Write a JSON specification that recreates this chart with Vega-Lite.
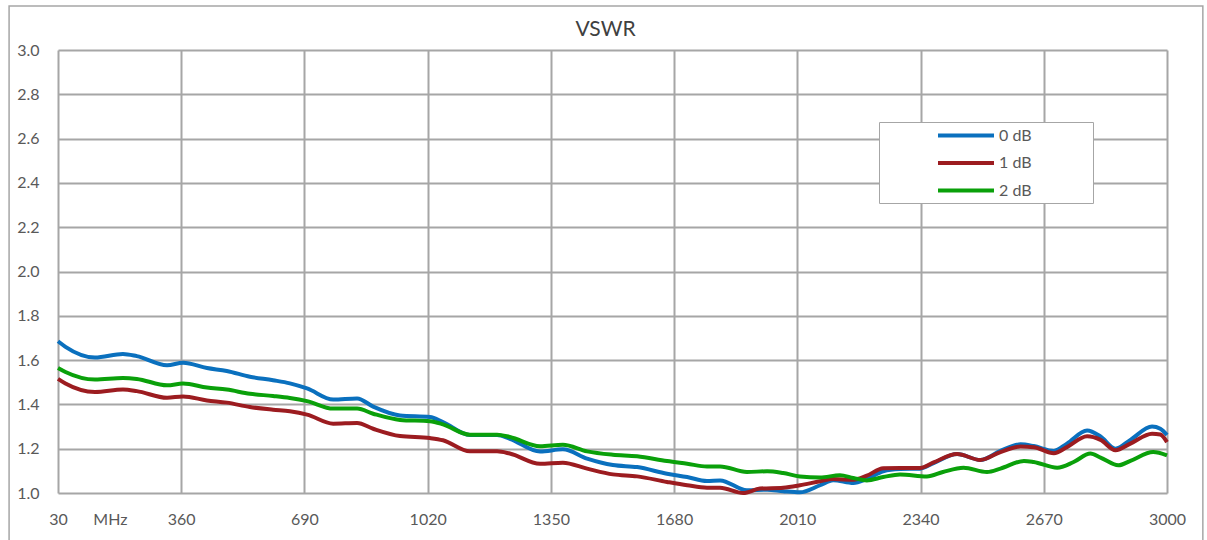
{
  "$schema": "https://vega.github.io/schema/vega-lite/v6.json",
  "width": 1109,
  "height": 443,
  "autosize": {"type": "none"},
  "padding": {"left": 58, "top": 50, "right": 40, "bottom": 47},
  "background": "white",
  "config": {
    "font": "Lato",
    "view": {"stroke": null},
    "axis": {"labelFont": "Lato", "labelFontSize": 16, "labelColor": "#595959", "grid": true, "gridColor": "#A6A6A6", "gridWidth": 2, "gridOpacity": 1, "domain": false, "ticks": false, "title": null}
  },
  "title": {"text": "VSWR", "fontSize": 21, "font": "Lato", "fontWeight": "normal", "color": "#404040", "anchor": "middle", "frame": "group", "offset": 12, "dx": -7, "dy": 47},
  "datasets": {
    "vswr": [
      {"f": 30, "v": 1.685, "s": "0 dB"}, {"f": 50, "v": 1.66, "s": "0 dB"}, {"f": 129, "v": 1.612, "s": "0 dB"}, {"f": 204, "v": 1.628, "s": "0 dB"}, {"f": 241, "v": 1.618, "s": "0 dB"}, {"f": 322, "v": 1.577, "s": "0 dB"}, {"f": 365, "v": 1.588, "s": "0 dB"}, {"f": 429, "v": 1.564, "s": "0 dB"}, {"f": 482, "v": 1.551, "s": "0 dB"}, {"f": 544, "v": 1.525, "s": "0 dB"}, {"f": 606, "v": 1.509, "s": "0 dB"}, {"f": 651, "v": 1.495, "s": "0 dB"}, {"f": 697, "v": 1.472, "s": "0 dB"}, {"f": 767, "v": 1.422, "s": "0 dB"}, {"f": 831, "v": 1.427, "s": "0 dB"}, {"f": 874, "v": 1.39, "s": "0 dB"}, {"f": 946, "v": 1.35, "s": "0 dB"}, {"f": 1026, "v": 1.343, "s": "0 dB"}, {"f": 1061, "v": 1.32, "s": "0 dB"}, {"f": 1133, "v": 1.262, "s": "0 dB"}, {"f": 1206, "v": 1.262, "s": "0 dB"}, {"f": 1240, "v": 1.245, "s": "0 dB"}, {"f": 1321, "v": 1.187, "s": "0 dB"}, {"f": 1382, "v": 1.197, "s": "0 dB"}, {"f": 1447, "v": 1.155, "s": "0 dB"}, {"f": 1516, "v": 1.126, "s": "0 dB"}, {"f": 1581, "v": 1.117, "s": "0 dB"}, {"f": 1661, "v": 1.087, "s": "0 dB"}, {"f": 1715, "v": 1.072, "s": "0 dB"}, {"f": 1768, "v": 1.054, "s": "0 dB"}, {"f": 1803, "v": 1.057, "s": "0 dB"}, {"f": 1875, "v": 1.012, "s": "0 dB"}, {"f": 1929, "v": 1.015, "s": "0 dB"}, {"f": 1972, "v": 1.008, "s": "0 dB"}, {"f": 2017, "v": 1.003, "s": "0 dB"}, {"f": 2071, "v": 1.035, "s": "0 dB"}, {"f": 2106, "v": 1.058, "s": "0 dB"}, {"f": 2160, "v": 1.045, "s": "0 dB"}, {"f": 2196, "v": 1.063, "s": "0 dB"}, {"f": 2240, "v": 1.098, "s": "0 dB"}, {"f": 2285, "v": 1.108, "s": "0 dB"}, {"f": 2339, "v": 1.11, "s": "0 dB"}, {"f": 2375, "v": 1.135, "s": "0 dB"}, {"f": 2438, "v": 1.176, "s": "0 dB"}, {"f": 2500, "v": 1.149, "s": "0 dB"}, {"f": 2554, "v": 1.19, "s": "0 dB"}, {"f": 2608, "v": 1.22, "s": "0 dB"}, {"f": 2643, "v": 1.212, "s": "0 dB"}, {"f": 2697, "v": 1.19, "s": "0 dB"}, {"f": 2732, "v": 1.223, "s": "0 dB"}, {"f": 2786, "v": 1.282, "s": "0 dB"}, {"f": 2822, "v": 1.255, "s": "0 dB"}, {"f": 2862, "v": 1.2, "s": "0 dB"}, {"f": 2902, "v": 1.24, "s": "0 dB"}, {"f": 2960, "v": 1.3, "s": "0 dB"}, {"f": 2982, "v": 1.29, "s": "0 dB"}, {"f": 3000, "v": 1.262, "s": "0 dB"},
      {"f": 30, "v": 1.515, "s": "1 dB"}, {"f": 50, "v": 1.494, "s": "1 dB"}, {"f": 129, "v": 1.456, "s": "1 dB"}, {"f": 204, "v": 1.467, "s": "1 dB"}, {"f": 241, "v": 1.46, "s": "1 dB"}, {"f": 322, "v": 1.43, "s": "1 dB"}, {"f": 365, "v": 1.436, "s": "1 dB"}, {"f": 429, "v": 1.418, "s": "1 dB"}, {"f": 482, "v": 1.408, "s": "1 dB"}, {"f": 544, "v": 1.388, "s": "1 dB"}, {"f": 606, "v": 1.376, "s": "1 dB"}, {"f": 651, "v": 1.369, "s": "1 dB"}, {"f": 697, "v": 1.354, "s": "1 dB"}, {"f": 767, "v": 1.313, "s": "1 dB"}, {"f": 831, "v": 1.316, "s": "1 dB"}, {"f": 874, "v": 1.29, "s": "1 dB"}, {"f": 946, "v": 1.257, "s": "1 dB"}, {"f": 1026, "v": 1.248, "s": "1 dB"}, {"f": 1061, "v": 1.238, "s": "1 dB"}, {"f": 1133, "v": 1.188, "s": "1 dB"}, {"f": 1206, "v": 1.188, "s": "1 dB"}, {"f": 1240, "v": 1.178, "s": "1 dB"}, {"f": 1321, "v": 1.132, "s": "1 dB"}, {"f": 1382, "v": 1.137, "s": "1 dB"}, {"f": 1447, "v": 1.11, "s": "1 dB"}, {"f": 1516, "v": 1.084, "s": "1 dB"}, {"f": 1581, "v": 1.075, "s": "1 dB"}, {"f": 1661, "v": 1.05, "s": "1 dB"}, {"f": 1715, "v": 1.035, "s": "1 dB"}, {"f": 1768, "v": 1.024, "s": "1 dB"}, {"f": 1803, "v": 1.024, "s": "1 dB"}, {"f": 1865, "v": 1.0, "s": "1 dB"}, {"f": 1910, "v": 1.02, "s": "1 dB"}, {"f": 1972, "v": 1.024, "s": "1 dB"}, {"f": 2017, "v": 1.035, "s": "1 dB"}, {"f": 2071, "v": 1.053, "s": "1 dB"}, {"f": 2106, "v": 1.063, "s": "1 dB"}, {"f": 2160, "v": 1.06, "s": "1 dB"}, {"f": 2196, "v": 1.078, "s": "1 dB"}, {"f": 2240, "v": 1.112, "s": "1 dB"}, {"f": 2285, "v": 1.113, "s": "1 dB"}, {"f": 2339, "v": 1.113, "s": "1 dB"}, {"f": 2375, "v": 1.138, "s": "1 dB"}, {"f": 2438, "v": 1.176, "s": "1 dB"}, {"f": 2500, "v": 1.149, "s": "1 dB"}, {"f": 2554, "v": 1.185, "s": "1 dB"}, {"f": 2608, "v": 1.21, "s": "1 dB"}, {"f": 2643, "v": 1.207, "s": "1 dB"}, {"f": 2697, "v": 1.18, "s": "1 dB"}, {"f": 2732, "v": 1.207, "s": "1 dB"}, {"f": 2786, "v": 1.256, "s": "1 dB"}, {"f": 2822, "v": 1.24, "s": "1 dB"}, {"f": 2862, "v": 1.193, "s": "1 dB"}, {"f": 2902, "v": 1.223, "s": "1 dB"}, {"f": 2960, "v": 1.268, "s": "1 dB"}, {"f": 2982, "v": 1.264, "s": "1 dB"}, {"f": 3000, "v": 1.23, "s": "1 dB"},
      {"f": 30, "v": 1.564, "s": "2 dB"}, {"f": 50, "v": 1.546, "s": "2 dB"}, {"f": 129, "v": 1.512, "s": "2 dB"}, {"f": 204, "v": 1.519, "s": "2 dB"}, {"f": 241, "v": 1.515, "s": "2 dB"}, {"f": 322, "v": 1.486, "s": "2 dB"}, {"f": 365, "v": 1.494, "s": "2 dB"}, {"f": 429, "v": 1.476, "s": "2 dB"}, {"f": 482, "v": 1.467, "s": "2 dB"}, {"f": 544, "v": 1.448, "s": "2 dB"}, {"f": 606, "v": 1.438, "s": "2 dB"}, {"f": 651, "v": 1.429, "s": "2 dB"}, {"f": 697, "v": 1.415, "s": "2 dB"}, {"f": 767, "v": 1.381, "s": "2 dB"}, {"f": 831, "v": 1.381, "s": "2 dB"}, {"f": 874, "v": 1.358, "s": "2 dB"}, {"f": 946, "v": 1.33, "s": "2 dB"}, {"f": 1026, "v": 1.324, "s": "2 dB"}, {"f": 1061, "v": 1.31, "s": "2 dB"}, {"f": 1133, "v": 1.263, "s": "2 dB"}, {"f": 1206, "v": 1.263, "s": "2 dB"}, {"f": 1240, "v": 1.253, "s": "2 dB"}, {"f": 1321, "v": 1.211, "s": "2 dB"}, {"f": 1382, "v": 1.218, "s": "2 dB"}, {"f": 1447, "v": 1.188, "s": "2 dB"}, {"f": 1516, "v": 1.173, "s": "2 dB"}, {"f": 1581, "v": 1.166, "s": "2 dB"}, {"f": 1661, "v": 1.144, "s": "2 dB"}, {"f": 1715, "v": 1.132, "s": "2 dB"}, {"f": 1768, "v": 1.12, "s": "2 dB"}, {"f": 1803, "v": 1.12, "s": "2 dB"}, {"f": 1875, "v": 1.095, "s": "2 dB"}, {"f": 1929, "v": 1.098, "s": "2 dB"}, {"f": 1972, "v": 1.09, "s": "2 dB"}, {"f": 2017, "v": 1.075, "s": "2 dB"}, {"f": 2071, "v": 1.07, "s": "2 dB"}, {"f": 2124, "v": 1.08, "s": "2 dB"}, {"f": 2160, "v": 1.068, "s": "2 dB"}, {"f": 2196, "v": 1.057, "s": "2 dB"}, {"f": 2240, "v": 1.072, "s": "2 dB"}, {"f": 2285, "v": 1.084, "s": "2 dB"}, {"f": 2357, "v": 1.075, "s": "2 dB"}, {"f": 2400, "v": 1.095, "s": "2 dB"}, {"f": 2455, "v": 1.114, "s": "2 dB"}, {"f": 2518, "v": 1.095, "s": "2 dB"}, {"f": 2554, "v": 1.11, "s": "2 dB"}, {"f": 2617, "v": 1.145, "s": "2 dB"}, {"f": 2643, "v": 1.14, "s": "2 dB"}, {"f": 2706, "v": 1.114, "s": "2 dB"}, {"f": 2750, "v": 1.14, "s": "2 dB"}, {"f": 2795, "v": 1.178, "s": "2 dB"}, {"f": 2822, "v": 1.16, "s": "2 dB"}, {"f": 2870, "v": 1.125, "s": "2 dB"}, {"f": 2902, "v": 1.145, "s": "2 dB"}, {"f": 2963, "v": 1.185, "s": "2 dB"}, {"f": 3000, "v": 1.17, "s": "2 dB"}
    ]
  },
  "layer": [
    {
      "data": {"values": [{"frame": 1}]},
      "mark": {"type": "rect", "filled": false, "stroke": "#A6A6A6", "strokeWidth": 1.5, "clip": false},
      "encoding": {
        "x": {
          "datum": -101, "type": "quantitative",
          "scale": {"domain": [30, 3000], "nice": false, "zero": false},
          "axis": {
            "values": [30, 169, 360, 690, 1020, 1350, 1680, 2010, 2340, 2670, 3000],
            "labelExpr": "datum.value == 169 ? 'MHz' : datum.label",
            "format": "d",
            "labelPadding": 18,
            "labelFlush": false,
            "labelOverlap": false,
            "grid": true,
            "gridOpacity": {"condition": {"test": "datum.value == 169", "value": 0}, "value": 1},
            "title": null
          }
        },
        "x2": {"datum": 3096},
        "y": {
          "datum": 3.199, "type": "quantitative",
          "scale": {"domain": [1, 3], "nice": false, "zero": false},
          "axis": {
            "values": [1.0, 1.2, 1.4, 1.6, 1.8, 2.0, 2.2, 2.4, 2.6, 2.8, 3.0],
            "format": ".1f",
            "labelPadding": 19,
            "labelFlush": false,
            "labelOverlap": false,
            "grid": true,
            "title": null
          }
        },
        "y2": {"datum": 0.765}
      }
    },
    {
      "data": {"name": "vswr"},
      "mark": {"type": "line", "strokeWidth": 4, "interpolate": "monotone", "clip": false},
      "encoding": {
        "x": {
          "field": "f", "type": "quantitative",
          "scale": {"domain": [30, 3000], "nice": false, "zero": false},
          "axis": {
            "values": [30, 169, 360, 690, 1020, 1350, 1680, 2010, 2340, 2670, 3000],
            "labelExpr": "datum.value == 169 ? 'MHz' : datum.label",
            "format": "d",
            "labelPadding": 18,
            "labelFlush": false,
            "labelOverlap": false,
            "grid": true,
            "gridOpacity": {"condition": {"test": "datum.value == 169", "value": 0}, "value": 1},
            "title": null
          }
        },
        "y": {
          "field": "v", "type": "quantitative",
          "scale": {"domain": [1, 3], "nice": false, "zero": false},
          "axis": {
            "values": [1.0, 1.2, 1.4, 1.6, 1.8, 2.0, 2.2, 2.4, 2.6, 2.8, 3.0],
            "format": ".1f",
            "labelPadding": 19,
            "labelFlush": false,
            "labelOverlap": false,
            "grid": true,
            "title": null
          }
        },
        "color": {
          "field": "s", "type": "nominal",
          "scale": {"domain": ["0 dB", "1 dB", "2 dB"], "range": ["#0A70BE", "#9C1C20", "#0AA00A"]},
          "legend": {
            "title": "W",
            "titleOrient": "right",
            "titleOpacity": 0,
            "titleFontSize": 16,
            "titlePadding": 40,
            "orient": "none",
            "legendX": 821,
            "legendY": 72,
            "fillColor": "white",
            "strokeColor": "#A6A6A6",
            "padding": 4.5,
            "symbolType": "M0,0H8",
            "symbolSize": 196,
            "symbolStrokeWidth": 4,
            "symbolOffset": 45.5,
            "labelOffset": 52,
            "labelFont": "Lato",
            "labelFontSize": 16,
            "labelColor": "#595959",
            "rowPadding": 10.5
          }
        }
      }
    }
  ]
}
